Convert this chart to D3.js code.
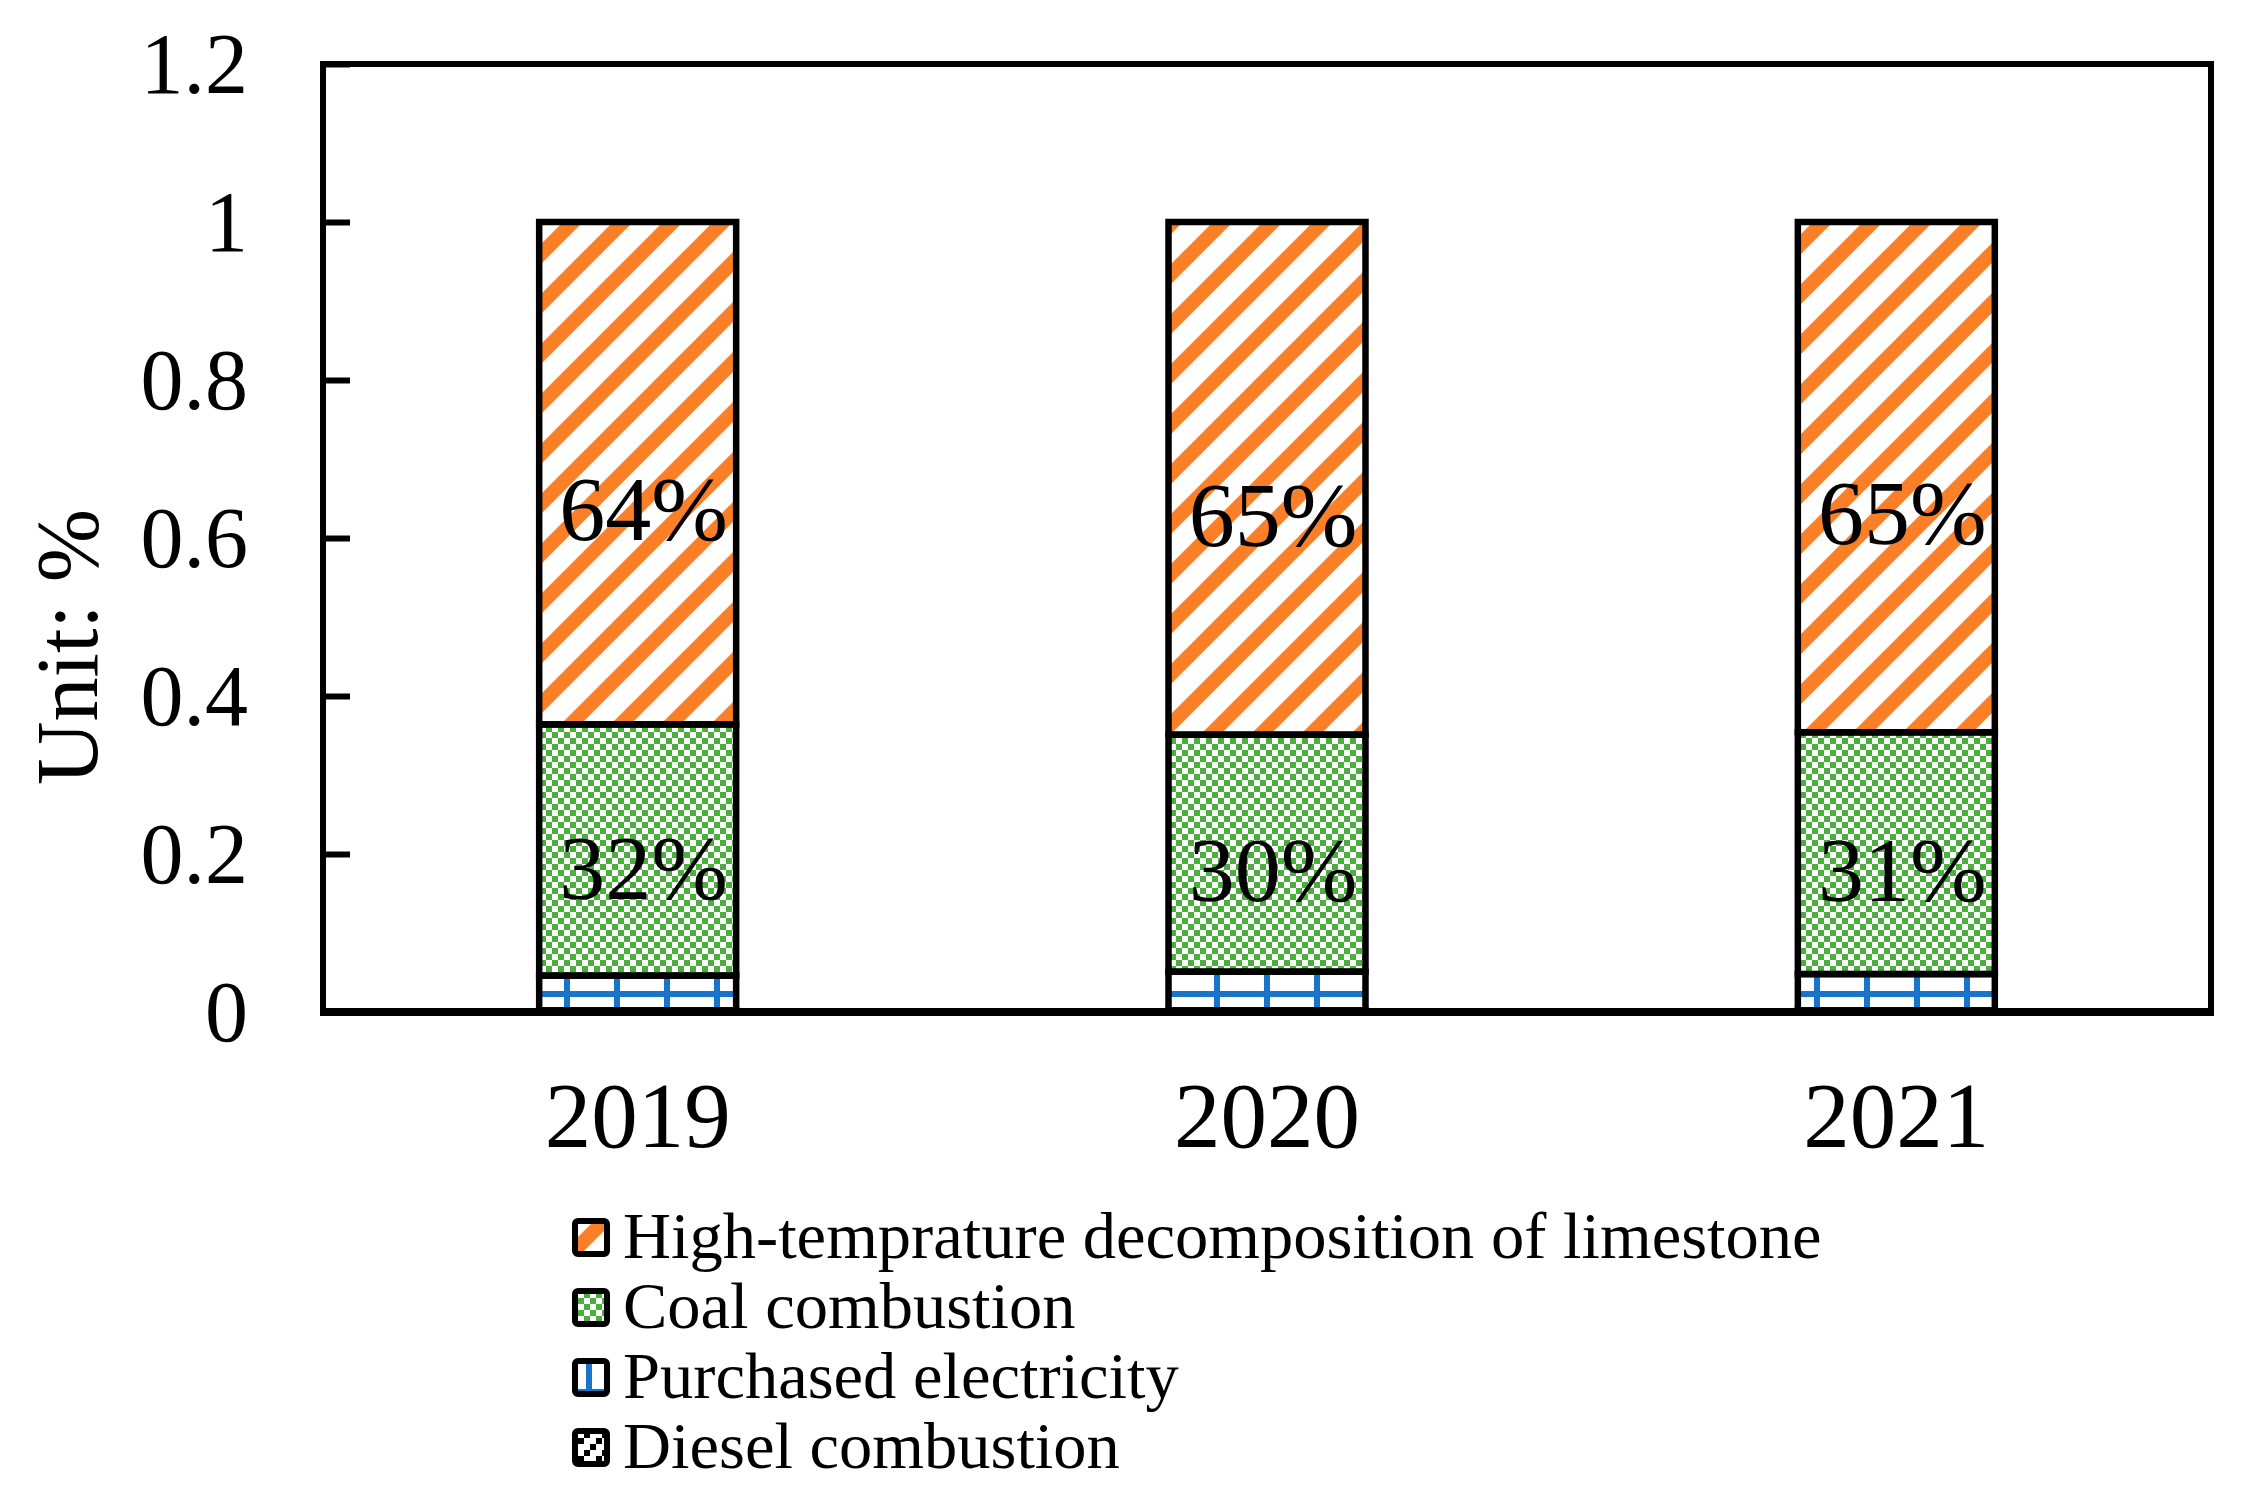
<!DOCTYPE html>
<html>
<head>
<meta charset="utf-8">
<script src="https://cdn.jsdelivr.net/npm/d3@7"></script>
<style>
  body { margin: 0; background: #fff; }
  text { font-family: 'Liberation Serif', 'Times New Roman', serif; fill: #000; }
</style>
</head>
<body>
<div id="chart"></div>
<script>
// data (shares of total emissions)
var years = ['2019', '2020', '2021']
var seriesNames = [
  'High-temprature decomposition of limestone',
  'Coal combustion',
  'Purchased electricity',
  'Diesel combustion'
]
var limestone = [0.636, 0.649, 0.646]
var coal = [0.318, 0.300, 0.306]
var electricity = [0.044, 0.049, 0.046]
var diesel = [0.002, 0.002, 0.002]
var yTicks = [0, 0.2, 0.4, 0.6, 0.8, 1, 1.2]
var labelled = ['limestone', 'coal']

var W = 2249, H = 1499
var plot = { left: 323, right: 2211, top: 64, bottom: 1012 }

var rows = years.map(function (yr, i) {
  return { year: yr, diesel: diesel[i], electricity: electricity[i], coal: coal[i], limestone: limestone[i] }
})
var keys = ['diesel', 'electricity', 'coal', 'limestone']
var legendKeys = ['limestone', 'coal', 'electricity', 'diesel']
var fills = {
  limestone: 'url(#pat-lime)',
  coal: 'url(#pat-coal)',
  electricity: 'url(#pat-elec)',
  diesel: 'url(#pat-diesel)'
}

var svg = d3.select('#chart')
  .append('svg')
  .attr('width', W)
  .attr('height', H)
  .attr('viewBox', '0 0 ' + W + ' ' + H)

// fill patterns, as the spreadsheet draws them
var defs = svg.append('defs')

var lime = defs.append('pattern')
  .attr('id', 'pat-lime')
  .attr('patternUnits', 'userSpaceOnUse')
  .attr('width', 50)
  .attr('height', 50)
lime.append('rect').attr('width', 50).attr('height', 50).attr('fill', '#fff')
lime.append('path')
  .attr('d', 'M35,0 L55,0 L0,55 L0,35 Z M85,0 L105,0 L0,105 L0,85 Z M-15,0 L5,0 L0,5 L0,-15 Z')
  .attr('fill', '#FB7F27')

var checker = defs.append('pattern')
  .attr('id', 'pat-coal')
  .attr('patternUnits', 'userSpaceOnUse')
  .attr('width', 12)
  .attr('height', 12)
checker.append('rect').attr('width', 12).attr('height', 12).attr('fill', '#fff')
checker.append('rect').attr('width', 6).attr('height', 6).attr('fill', '#4BAF3D')
checker.append('rect').attr('x', 6).attr('y', 6).attr('width', 6).attr('height', 6).attr('fill', '#4BAF3D')

var grid = defs.append('pattern')
  .attr('id', 'pat-elec')
  .attr('patternUnits', 'userSpaceOnUse')
  .attr('width', 50)
  .attr('height', 50)
grid.append('rect').attr('width', 50).attr('height', 50).attr('fill', '#fff')
grid.append('rect').attr('x', 14).attr('width', 6).attr('height', 50).attr('fill', '#1874CB')
grid.append('rect').attr('y', 41).attr('width', 50).attr('height', 6).attr('fill', '#1874CB')

var dots = defs.append('pattern')
  .attr('id', 'pat-diesel')
  .attr('patternUnits', 'userSpaceOnUse')
  .attr('width', 18)
  .attr('height', 18)
dots.append('rect').attr('width', 18).attr('height', 18).attr('fill', '#fff')
dots.append('rect').attr('x', 12).attr('width', 6).attr('height', 6).attr('fill', '#000')
dots.append('rect').attr('x', 6).attr('y', 6).attr('width', 6).attr('height', 6).attr('fill', '#000')
dots.append('rect').attr('y', 12).attr('width', 6).attr('height', 6).attr('fill', '#000')

defs.selectAll('rect').attr('shape-rendering', 'crispEdges')

// scales
var x = d3.scaleBand()
  .domain(years)
  .range([plot.left, plot.right])
  .paddingInner(0.687)
  .paddingOuter(0.687 / 2)

var y = d3.scaleLinear()
  .domain([0, 1.2])
  .range([plot.bottom, plot.top])

var stacked = d3.stack().keys(keys)(rows)

// bar fills first, outlines on top so no segment hides a border
function segments (g) {
  return g.selectAll('rect')
    .data(function (d) { return d })
    .join('rect')
    .attr('x', function (d) { return x(d.data.year) })
    .attr('width', x.bandwidth())
    .attr('y', function (d) { return y(d[1]) })
    .attr('height', function (d) { return y(d[0]) - y(d[1]) })
}

var fillLayers = svg.append('g')
  .selectAll('g')
  .data(stacked)
  .join('g')
  .attr('fill', function (d) { return fills[d.key] })
segments(fillLayers)

var edgeLayers = svg.append('g')
  .selectAll('g')
  .data(stacked)
  .join('g')
  .attr('fill', 'none')
  .attr('stroke', '#000')
  .attr('stroke-width', 6.5)
segments(edgeLayers)

// percentage labels inside the two big segments
stacked.filter(function (s) { return labelled.indexOf(s.key) >= 0 }).forEach(function (s) {
  svg.append('g')
    .selectAll('text')
    .data(s)
    .join('text')
    .attr('x', function (d) { return x(d.data.year) + x.bandwidth() / 2 + 6 })
    .attr('y', function (d) { return y(d[0] + 0.43 * (d[1] - d[0])) })
    .attr('dy', '0.34em')
    .attr('text-anchor', 'middle')
    .style('font-size', '92px')
    .text(function (d) { return Math.round((d[1] - d[0]) * 100) + '%' })
})

// plot frame
svg.append('rect')
  .attr('x', plot.left)
  .attr('y', plot.top)
  .attr('width', plot.right - plot.left)
  .attr('height', plot.bottom - plot.top)
  .attr('fill', 'none')
  .attr('stroke', '#000')
  .attr('stroke-width', 6)

// y axis, ticks pointing inwards
var yAxis = svg.append('g')
  .attr('transform', 'translate(' + plot.left + ',0)')
  .call(d3.axisLeft(y)
    .tickValues(yTicks)
    .tickFormat(function (d) { return String(+d.toFixed(1)) })
    .tickSizeInner(-27)
    .tickSizeOuter(0)
    .tickPadding(75))
yAxis.select('.domain').remove()
yAxis.selectAll('line').attr('stroke', '#000').attr('stroke-width', 6)
yAxis.selectAll('text')
  .attr('dy', '0.33em')
  .style('font-size', '86px')
  .style('font-family', "'Liberation Serif', 'Times New Roman', serif")

// x axis
var xAxis = svg.append('g')
  .attr('transform', 'translate(0,' + plot.bottom + ')')
  .call(d3.axisBottom(x).tickSize(0).tickPadding(69))
xAxis.select('.domain').remove()
xAxis.selectAll('text')
  .style('font-size', '93px')
  .style('font-family', "'Liberation Serif', 'Times New Roman', serif")

svg.append('line')
  .attr('x1', plot.left - 3)
  .attr('x2', plot.right + 3)
  .attr('y1', plot.bottom)
  .attr('y2', plot.bottom)
  .attr('stroke', '#000')
  .attr('stroke-width', 8)

// axis title
svg.append('text')
  .attr('transform', 'translate(97,647) rotate(-90)')
  .attr('text-anchor', 'middle')
  .style('font-size', '88px')
  .text('Unit: %')

// legend
var legend = svg.append('g')
  .selectAll('g')
  .data(legendKeys)
  .join('g')
  .attr('transform', function (d, i) { return 'translate(572,' + (1258 + i * 70) + ')' })

legend.append('rect')
  .attr('x', 3)
  .attr('y', -37)
  .attr('width', 32)
  .attr('height', 33)
  .attr('rx', 3)
  .attr('fill', function (d) { return fills[d] })
  .attr('stroke', '#000')
  .attr('stroke-width', 6)

legend.append('text')
  .attr('x', 51)
  .style('font-size', '66.5px')
  .text(function (d) { return seriesNames[legendKeys.indexOf(d)] })
</script>
</body>
</html>
